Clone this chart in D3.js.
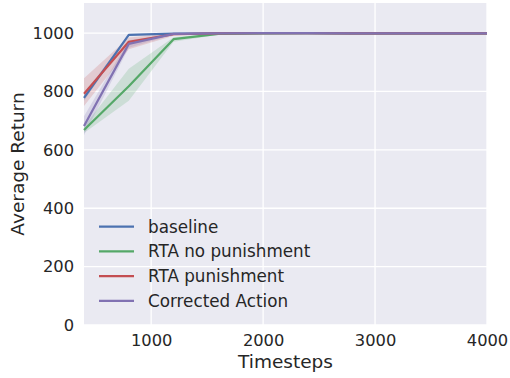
<!DOCTYPE html>
<html>
<head>
<meta charset="utf-8">
<script src="https://cdn.jsdelivr.net/npm/d3@7"></script>
<style>
  html, body { margin: 0; padding: 0; background: #fff; }
  svg { display: block; font-family: "DejaVu Sans", sans-serif; }
</style>
</head>
<body>
<svg id="chart" width="510" height="378"></svg>
<script>
// Training steps at which each run was evaluated
const timesteps = [400, 800, 1200, 1600, 2000, 2400, 2800, 3200, 3600, 4000];

const seriesNames = ["baseline", "RTA no punishment", "RTA punishment", "Corrected Action"];
const seriesColors = ["#4C72B0", "#55A868", "#C44E52", "#8172B2"];

// Mean return per series
const baselineMean   = [778, 994, 998, 999, 1000, 1000, 999, 999, 999, 999];
const noPunishMean   = [668, 818, 979, 997, 999, 1000, 999, 999, 999, 999];
const punishMean     = [792, 970, 996, 999, 1000, 1000, 999, 999, 999, 999];
const correctedMean  = [682, 963, 997, 999, 1000, 1000, 999, 999, 999, 999];

// Confidence band, lower bound
const baselineLow    = [768, 990, 996, 998, 999, 999, 998, 998, 998, 998];
const noPunishLow    = [658, 768, 970, 994, 998, 999, 998, 998, 998, 998];
const punishLow      = [750, 945, 991, 997, 999, 999, 998, 998, 998, 998];
const correctedLow   = [650, 950, 994, 998, 999, 999, 998, 998, 998, 998];

// Confidence band, upper bound
const baselineHigh   = [790, 997, 999, 1000, 1000, 1000, 1000, 1000, 1000, 1000];
const noPunishHigh   = [680, 878, 986, 999, 1000, 1000, 1000, 1000, 1000, 1000];
const punishHigh     = [845, 985, 999, 1000, 1000, 1000, 1000, 1000, 1000, 1000];
const correctedHigh  = [715, 975, 999, 1000, 1000, 1000, 1000, 1000, 1000, 1000];

const xTicks = [1000, 2000, 3000, 4000];
const yTicks = [0, 200, 400, 600, 800, 1000];

const means = [baselineMean, noPunishMean, punishMean, correctedMean];
const lows  = [baselineLow, noPunishLow, punishLow, correctedLow];
const highs = [baselineHigh, noPunishHigh, punishHigh, correctedHigh];

const margin = { left: 84, right: 23, top: 3, bottom: 53 };
const W = 510, H = 378;
const pw = W - margin.left - margin.right;
const ph = H - margin.top - margin.bottom;

const svg = d3.select("#chart");
const g = svg.append("g").attr("transform", `translate(${margin.left},${margin.top})`);

const x = d3.scaleLinear().domain([400, 4000]).range([0, pw]);
const y = d3.scaleLinear().domain([0, 1103]).range([ph, 0]);

// Plot background
g.append("rect").attr("width", pw).attr("height", ph).attr("fill", "#EAEAF2");

// Grid
g.append("g").selectAll("line").data(xTicks).join("line")
  .attr("x1", d => x(d)).attr("x2", d => x(d))
  .attr("y1", 0).attr("y2", ph)
  .attr("stroke", "#fff").attr("stroke-width", 1.3);
g.append("g").selectAll("line").data(yTicks).join("line")
  .attr("y1", d => y(d)).attr("y2", d => y(d))
  .attr("x1", 0).attr("x2", pw)
  .attr("stroke", "#fff").attr("stroke-width", 1.3);

// Bands then lines
const area = d3.area()
  .x((d, i) => x(timesteps[i]))
  .y0(d => y(d[0]))
  .y1(d => y(d[1]));
const line = d3.line()
  .x((d, i) => x(timesteps[i]))
  .y(d => y(d));

const plot = g.append("g");
seriesNames.forEach((name, s) => {
  const band = lows[s].map((lo, i) => [lo, highs[s][i]]);
  plot.append("path")
    .attr("d", area(band))
    .attr("fill", seriesColors[s])
    .attr("fill-opacity", 0.2);
});
seriesNames.forEach((name, s) => {
  plot.append("path")
    .attr("d", line(means[s]))
    .attr("fill", "none")
    .attr("stroke", seriesColors[s])
    .attr("stroke-width", 2.2)
    .attr("stroke-linejoin", "round");
});

// Axes (labels only, darkgrid style has no visible spines/ticks)
const xAxis = g.append("g").attr("transform", `translate(0,${ph})`)
  .call(d3.axisBottom(x).tickValues(xTicks).tickFormat(d3.format("d")).tickSize(0).tickPadding(9));
const yAxis = g.append("g")
  .call(d3.axisLeft(y).tickValues(yTicks).tickFormat(d3.format("d")).tickSize(0).tickPadding(10));
[xAxis, yAxis].forEach(a => {
  a.select(".domain").remove();
  a.selectAll("text")
    .attr("fill", "#262626")
    .style("font-size", "16.3px")
    .style("font-family", "'DejaVu Sans', sans-serif");
});

// Axis titles
svg.append("text")
  .attr("x", margin.left + pw / 2).attr("y", 368)
  .attr("text-anchor", "middle")
  .attr("fill", "#262626")
  .style("font-size", "18.5px")
  .text("Timesteps");
svg.append("text")
  .attr("transform", `translate(24,${margin.top + ph / 2}) rotate(-90)`)
  .attr("text-anchor", "middle")
  .attr("fill", "#262626")
  .style("font-size", "18.5px")
  .text("Average Return");

// Legend
const legend = svg.append("g");
seriesNames.forEach((name, s) => {
  const ly = 226.7 + s * 24.7;
  legend.append("line")
    .attr("x1", 99).attr("x2", 134)
    .attr("y1", ly).attr("y2", ly)
    .attr("stroke", seriesColors[s]).attr("stroke-width", 2.2);
  legend.append("text")
    .attr("x", 148).attr("y", ly + 6)
    .attr("fill", "#262626")
    .style("font-size", "16.8px")
    .text(name);
});
</script>
</body>
</html>
